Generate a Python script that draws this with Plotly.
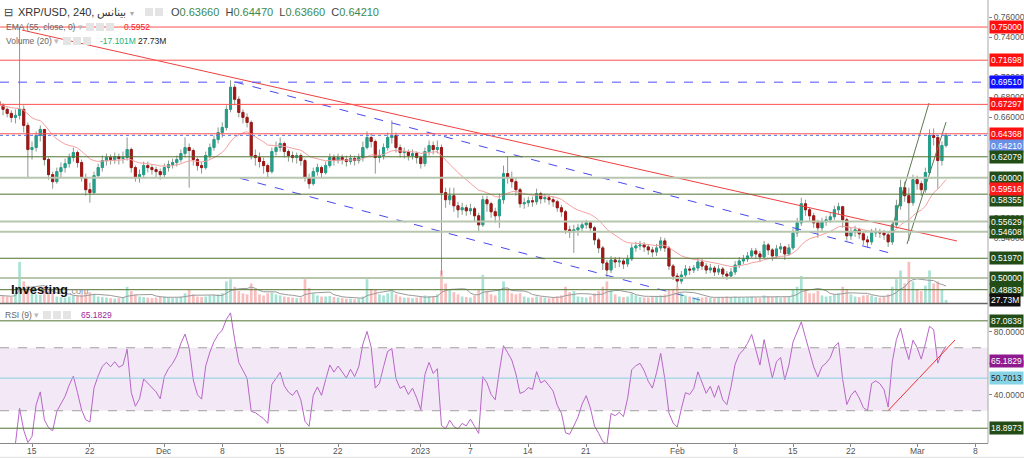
import numpy as np
import pandas as pd
import plotly.graph_objects as go

# ---------------- data (12h candles) ----------------
start_time = "2023-11-11 00:00"
first_open = 0.676
closes = [
    0.672, 0.668, 0.664, 0.660, 0.662, 0.668, 0.652, 0.628, 0.630, 0.642,
    0.648, 0.618, 0.603, 0.596, 0.606, 0.610, 0.614, 0.620, 0.625, 0.615,
    0.600, 0.588, 0.585, 0.602, 0.610, 0.617, 0.620, 0.618, 0.621, 0.619,
    0.620, 0.628, 0.610, 0.600, 0.603, 0.612, 0.610, 0.608, 0.606, 0.603,
    0.610, 0.613, 0.615, 0.618, 0.624, 0.630, 0.627, 0.618, 0.612, 0.610,
    0.622, 0.630, 0.638, 0.645, 0.650, 0.668, 0.690, 0.678, 0.665, 0.660,
    0.655, 0.622, 0.620, 0.616, 0.612, 0.606, 0.626, 0.630, 0.634, 0.626,
    0.622, 0.620, 0.622, 0.617, 0.600, 0.594, 0.606, 0.610, 0.605, 0.612,
    0.620, 0.617, 0.620, 0.618, 0.616, 0.619, 0.617, 0.620, 0.630, 0.640,
    0.636, 0.620, 0.622, 0.630, 0.640, 0.642, 0.630, 0.625, 0.626, 0.622,
    0.624, 0.620, 0.614, 0.626, 0.632, 0.628, 0.630, 0.585, 0.578, 0.582,
    0.572, 0.568, 0.570, 0.567, 0.569, 0.562, 0.553, 0.578, 0.574, 0.566,
    0.562, 0.578, 0.604, 0.600, 0.596, 0.588, 0.574, 0.575, 0.577, 0.576,
    0.584, 0.579, 0.580, 0.578, 0.576, 0.570, 0.566, 0.548, 0.546, 0.548,
    0.550, 0.553, 0.555, 0.550, 0.538, 0.530, 0.515, 0.508, 0.518, 0.516,
    0.517, 0.514, 0.519, 0.530, 0.532, 0.533, 0.531, 0.528, 0.526, 0.530,
    0.537, 0.530, 0.512, 0.502, 0.497, 0.503, 0.509, 0.508, 0.510, 0.516,
    0.512, 0.508, 0.510, 0.506, 0.509, 0.504, 0.502, 0.506, 0.513, 0.517,
    0.519, 0.522, 0.527, 0.524, 0.521, 0.533, 0.528, 0.522, 0.529, 0.531,
    0.524, 0.530, 0.545, 0.555, 0.574, 0.568, 0.562, 0.555, 0.550, 0.556,
    0.558, 0.561, 0.568, 0.571, 0.558, 0.542, 0.546, 0.548, 0.544, 0.538,
    0.536, 0.545, 0.546, 0.545, 0.543, 0.536, 0.553, 0.572, 0.590, 0.582,
    0.575, 0.598, 0.594, 0.588, 0.605, 0.642, 0.640, 0.617, 0.632, 0.6421,
]
highs = [
    0.680, 0.674, 0.670, 0.667, 0.668, 0.750, 0.672, 0.655, 0.636, 0.646,
    0.652, 0.648, 0.620, 0.606, 0.610, 0.615, 0.619, 0.624, 0.630, 0.627,
    0.618, 0.604, 0.595, 0.606, 0.614, 0.622, 0.624, 0.623, 0.625, 0.624,
    0.626, 0.640, 0.630, 0.612, 0.608, 0.616, 0.616, 0.613, 0.611, 0.609,
    0.614, 0.617, 0.619, 0.622, 0.628, 0.640, 0.634, 0.629, 0.620, 0.616,
    0.626, 0.634, 0.642, 0.650, 0.655, 0.672, 0.697, 0.693, 0.681, 0.668,
    0.664, 0.657, 0.628, 0.625, 0.620, 0.614, 0.630, 0.636, 0.640, 0.636,
    0.628, 0.626, 0.625, 0.624, 0.619, 0.604, 0.610, 0.614, 0.612, 0.616,
    0.624, 0.623, 0.624, 0.623, 0.622, 0.623, 0.622, 0.624, 0.636, 0.646,
    0.644, 0.638, 0.628, 0.634, 0.645, 0.657, 0.645, 0.633, 0.630, 0.628,
    0.628, 0.626, 0.622, 0.630, 0.637, 0.636, 0.637, 0.633, 0.590, 0.590,
    0.590, 0.576, 0.575, 0.573, 0.574, 0.571, 0.565, 0.582, 0.582, 0.576,
    0.570, 0.584, 0.612, 0.621, 0.606, 0.600, 0.590, 0.580, 0.581, 0.581,
    0.589, 0.586, 0.584, 0.583, 0.581, 0.578, 0.573, 0.568, 0.552, 0.553,
    0.554, 0.557, 0.558, 0.557, 0.552, 0.540, 0.532, 0.518, 0.522, 0.521,
    0.521, 0.519, 0.523, 0.534, 0.536, 0.537, 0.536, 0.534, 0.531, 0.534,
    0.541, 0.540, 0.532, 0.514, 0.505, 0.507, 0.513, 0.512, 0.513, 0.520,
    0.519, 0.515, 0.514, 0.512, 0.513, 0.511, 0.507, 0.510, 0.517, 0.521,
    0.523, 0.526, 0.530, 0.530, 0.527, 0.537, 0.535, 0.530, 0.533, 0.535,
    0.532, 0.534, 0.549, 0.560, 0.580, 0.578, 0.570, 0.565, 0.558, 0.560,
    0.562, 0.565, 0.572, 0.575, 0.572, 0.560, 0.550, 0.552, 0.550, 0.547,
    0.542, 0.549, 0.550, 0.549, 0.548, 0.545, 0.557, 0.578, 0.598, 0.596,
    0.590, 0.603, 0.602, 0.597, 0.610, 0.648, 0.649, 0.642, 0.636, 0.6447,
]
lows = [
    0.668, 0.662, 0.660, 0.655, 0.654, 0.658, 0.645, 0.600, 0.618, 0.626,
    0.636, 0.612, 0.598, 0.589, 0.594, 0.600, 0.605, 0.610, 0.616, 0.610,
    0.596, 0.582, 0.575, 0.584, 0.600, 0.606, 0.612, 0.613, 0.614, 0.613,
    0.614, 0.617, 0.605, 0.596, 0.595, 0.600, 0.605, 0.603, 0.600, 0.598,
    0.600, 0.606, 0.609, 0.611, 0.615, 0.620, 0.590, 0.612, 0.607, 0.604,
    0.608, 0.619, 0.627, 0.634, 0.640, 0.647, 0.665, 0.672, 0.660, 0.654,
    0.650, 0.618, 0.612, 0.610, 0.604, 0.600, 0.604, 0.622, 0.626, 0.620,
    0.616, 0.615, 0.614, 0.612, 0.596, 0.589, 0.592, 0.602, 0.600, 0.603,
    0.610, 0.612, 0.614, 0.613, 0.611, 0.613, 0.612, 0.614, 0.616, 0.628,
    0.630, 0.604, 0.615, 0.618, 0.627, 0.634, 0.625, 0.620, 0.619, 0.617,
    0.618, 0.614, 0.609, 0.611, 0.622, 0.623, 0.624, 0.503, 0.570, 0.573,
    0.566, 0.560, 0.563, 0.562, 0.563, 0.556, 0.546, 0.551, 0.566, 0.560,
    0.555, 0.550, 0.574, 0.594, 0.590, 0.582, 0.570, 0.569, 0.571, 0.571,
    0.573, 0.574, 0.575, 0.573, 0.571, 0.566, 0.561, 0.544, 0.540, 0.525,
    0.542, 0.546, 0.549, 0.545, 0.533, 0.525, 0.508, 0.500, 0.505, 0.510,
    0.511, 0.509, 0.511, 0.517, 0.526, 0.528, 0.526, 0.523, 0.521, 0.522,
    0.527, 0.526, 0.508, 0.498, 0.491, 0.494, 0.500, 0.503, 0.505, 0.507,
    0.508, 0.504, 0.505, 0.502, 0.503, 0.500, 0.498, 0.499, 0.503, 0.510,
    0.514, 0.516, 0.520, 0.519, 0.516, 0.520, 0.523, 0.517, 0.520, 0.525,
    0.518, 0.522, 0.528, 0.541, 0.552, 0.562, 0.557, 0.550, 0.540, 0.547,
    0.552, 0.555, 0.558, 0.563, 0.550, 0.537, 0.538, 0.541, 0.539, 0.533,
    0.530, 0.533, 0.541, 0.540, 0.538, 0.531, 0.533, 0.550, 0.568, 0.576,
    0.537, 0.572, 0.588, 0.582, 0.585, 0.603, 0.632, 0.589, 0.612, 0.630,
]
volumes_m = [
    70, 65, 60, 55, 90, 380, 200, 160, 90, 80,
    75, 150, 110, 95, 60, 55, 50, 60, 70, 65,
    80, 95, 100, 85, 60, 55, 50, 45, 40, 45,
    50, 150, 110, 80, 60, 55, 50, 45, 50, 55,
    60, 55, 45, 50, 60, 90, 120, 80, 60, 55,
    60, 70, 75, 80, 90, 200, 220, 150, 110, 90,
    80, 180, 120, 80, 70, 90, 95, 80, 70, 60,
    55, 50, 45, 50, 220, 140, 90, 70, 60, 60,
    65, 55, 50, 45, 40, 40, 35, 40, 60, 220,
    130, 120, 80, 70, 90, 110, 80, 60, 50, 50,
    45, 50, 55, 70, 65, 60, 80, 300, 180, 120,
    100, 80, 60, 55, 50, 70, 120, 260, 110, 80,
    70, 120, 200, 130, 90, 80, 90, 60, 50, 50,
    60, 55, 50, 45, 50, 60, 70, 150, 100, 110,
    60, 55, 50, 60, 90, 110, 150, 200, 120, 80,
    60, 55, 60, 90, 70, 55, 50, 50, 55, 60,
    70, 80, 120, 130, 150, 90, 70, 60, 50, 55,
    50, 55, 50, 45, 50, 55, 60, 55, 60, 55,
    50, 55, 60, 50, 45, 70, 60, 55, 60, 50,
    55, 60, 120, 150, 250, 130, 90, 90, 110, 70,
    60, 65, 80, 90, 150, 130, 80, 60, 55, 70,
    75, 70, 55, 50, 55, 80, 150, 220, 300, 180,
    380, 200, 130, 110, 160, 300, 180, 200, 120, 27.73,
]

# horizontal levels on the price panel
red_levels = [0.75000, 0.71698, 0.67297, 0.64368]
blue_level = 0.69510
last_price = 0.64210
dark_green_levels = [0.62079, 0.58355, 0.51970, 0.48839]
light_green_levels = [0.60000, 0.55629, 0.54608, 0.50000]
ema_last = 0.59516
price_ticks = [0.76, 0.74, 0.70, 0.68, 0.66, 0.56, 0.54]

# trend lines (date, price) pairs
red_trend = [("2023-11-13 19:00", 0.7470), ("2024-03-05 19:40", 0.5369)]
blue_upper = [("2023-12-09 13:00", 0.6953), ("2024-02-26 17:20", 0.5249)]
blue_lower = [("2023-12-10 03:30", 0.5994), ("2024-02-03 18:00", 0.4781)]
green_ch1 = [("2024-02-26 23:15", 0.5498), ("2024-03-02 10:30", 0.6743)]
green_ch2 = [("2024-02-28 18:40", 0.5339), ("2024-03-04 12:00", 0.6554)]
rsi_trend = [("2024-02-26 11:30", 30.0), ("2024-03-05 14:00", 74.9)]

# RSI levels
rsi_levels_green = [87.0838, 18.8973]
rsi_level_blue = 50.7013
rsi_last = 65.1829
rsi_ticks = [80, 60, 40]

tick_dates = ["2023-11-15", "2023-11-22", "2023-12-01", "2023-12-08", "2023-12-15",
              "2023-12-22", "2024-01-01", "2024-01-07", "2024-01-14", "2024-01-21",
              "2024-02-01", "2024-02-08", "2024-02-15", "2024-02-22", "2024-03-01",
              "2024-03-08"]
tick_text = ["15", "22", "Dec", "8", "15", "22", "2023", "7", "14", "21",
             "Feb", "8", "15", "22", "Mar", "8"]

# ---------------- derived series ----------------
times = pd.date_range(start_time, periods=len(closes), freq="12h")
opens = [first_open] + closes[:-1]
cl = pd.Series(closes)
ema = cl.ewm(span=55 / 3, adjust=False).mean()  # EMA 55 of 4h bars ~ 18.3 bars of 12h
rsi_period = 6
delta = cl.diff()
gain = delta.clip(lower=0).ewm(alpha=1 / rsi_period, adjust=False).mean()
loss = (-delta.clip(upper=0)).ewm(alpha=1 / rsi_period, adjust=False).mean()
rsi = 100 - 100 / (1 + gain / loss)
vol_ma = pd.Series(volumes_m).rolling(7, min_periods=1).mean()
body_hi = [max(o, c) for o, c in zip(opens, closes)]
body_lo = [min(o, c) for o, c in zip(opens, closes)]
up = [c >= o for o, c in zip(opens, closes)]

UP = "#22a08c"
DN = "#a01616"
WICK = "#8c9a8c"
GREEN_DK = "#4f7332"
GREEN_LT = "#b8c6ae"
LBL_GREEN = "#234d16"
FONT = "Liberation Sans, Arial, sans-serif"

W, H = 1024, 458
ML, MR, MT, MB = 0, 36, 0, 15
PH = H - MT - MB  # 443
PW = W - ML - MR  # 988


def py(y):
    return 1 - (y - MT) / PH


def px(x):
    return (x - ML) / PW


fig = go.Figure()

# volume overlay
fig.add_trace(go.Bar(x=times, y=volumes_m, yaxis="y3",
                     marker=dict(color=["rgba(60,190,160,0.45)" if u else "rgba(240,110,110,0.45)" for u in up],
                                 line=dict(width=0)),
                     hoverinfo="skip"))
fig.add_trace(go.Scatter(x=times, y=vol_ma, yaxis="y3", mode="lines",
                         line=dict(color="#9a9a9a", width=1), hoverinfo="skip"))

# EMA
fig.add_trace(go.Scatter(x=times, y=ema, mode="lines", line=dict(color="#f4a0a0", width=1),
                         hoverinfo="skip"))

# candle wicks (gray), then coloured bodies
fig.add_trace(go.Candlestick(x=times, open=opens, high=highs, low=lows, close=closes,
                             increasing=dict(line=dict(color=WICK, width=1), fillcolor=WICK),
                             decreasing=dict(line=dict(color=WICK, width=1), fillcolor=WICK),
                             hoverinfo="skip"))
fig.add_trace(go.Candlestick(x=times, open=opens, high=body_hi, low=body_lo, close=closes,
                             increasing=dict(line=dict(color=UP, width=1), fillcolor=UP),
                             decreasing=dict(line=dict(color=DN, width=1), fillcolor=DN),
                             hoverinfo="skip"))

# trend lines
for pts, col, dash in [(red_trend, "#f04040", "solid"), (blue_upper, "#4848f0", "dash"),
                       (blue_lower, "#4848f0", "dash"), (green_ch1, "#5e7a50", "solid"),
                       (green_ch2, "#5e7a50", "solid")]:
    fig.add_trace(go.Scatter(x=[p[0] for p in pts], y=[p[1] for p in pts], mode="lines",
                             line=dict(color=col, width=1, dash=dash), hoverinfo="skip"))

# RSI
fig.add_trace(go.Scatter(x=times, y=rsi, yaxis="y2", mode="lines",
                         line=dict(color="#b866c8", width=1), hoverinfo="skip"))
fig.add_trace(go.Scatter(x=[p[0] for p in rsi_trend], y=[p[1] for p in rsi_trend], yaxis="y2",
                         mode="lines", line=dict(color="#f03030", width=1), hoverinfo="skip"))

shapes = []
# RSI band
shapes.append(dict(type="rect", xref="paper", x0=0, x1=1, yref="y2", y0=30, y1=70,
                   fillcolor="rgba(200,150,210,0.22)", line=dict(width=0), layer="below"))
for lv in (70, 30):
    shapes.append(dict(type="line", xref="paper", x0=0, x1=1, yref="y2", y0=lv, y1=lv,
                       line=dict(color="#a0a0a0", width=1, dash="dash")))
for lv in rsi_levels_green:
    shapes.append(dict(type="line", xref="paper", x0=0, x1=1, yref="y2", y0=lv, y1=lv,
                       line=dict(color=GREEN_DK, width=1)))
shapes.append(dict(type="line", xref="paper", x0=0, x1=1, yref="y2", y0=rsi_level_blue,
                   y1=rsi_level_blue, line=dict(color="#86cfe0", width=1)))

for lv in red_levels:
    shapes.append(dict(type="line", xref="paper", x0=0, x1=1, yref="y", y0=lv, y1=lv,
                       line=dict(color="#ff5050", width=1)))
shapes.append(dict(type="line", xref="paper", x0=0, x1=1, yref="y", y0=blue_level, y1=blue_level,
                   line=dict(color="#5050ff", width=1, dash="dash")))
shapes.append(dict(type="line", xref="paper", x0=0, x1=1, yref="y", y0=last_price, y1=last_price,
                   line=dict(color="#5577dd", width=1, dash="dot")))
for lv in dark_green_levels:
    shapes.append(dict(type="line", xref="paper", x0=0, x1=1, yref="y", y0=lv, y1=lv,
                       line=dict(color=GREEN_DK, width=1)))
for lv in light_green_levels:
    shapes.append(dict(type="line", xref="paper", x0=0, x1=1, yref="y", y0=lv, y1=lv,
                       line=dict(color=GREEN_LT, width=2)))

# panel separator, right axis line, bottom strip
shapes.append(dict(type="line", xref="paper", x0=0, x1=1, yref="paper", y0=py(303.5), y1=py(303.5),
                   line=dict(color="#666", width=1.5)))
shapes.append(dict(type="line", xref="paper", x0=1, x1=1, yref="paper", y0=py(443), y1=py(0),
                   line=dict(color="#a8a8a8", width=1)))
shapes.append(dict(type="line", xref="paper", x0=0, x1=px(1024), yref="paper", y0=py(457.5),
                   y1=py(457.5), line=dict(color="#e6e6e6", width=1.5)))

# small header icon boxes
for (x0, y0) in [(145, 8), (155, 8), (86, 23), (96, 23), (106, 23), (63, 37), (73, 37), (83, 37),
                 (43, 311), (53, 311), (63, 311)]:
    shapes.append(dict(type="rect", xref="paper", yref="paper", x0=px(x0), x1=px(x0 + 8),
                       y0=py(y0 + 8), y1=py(y0), fillcolor="#e4e4e4", line=dict(width=0)))

ann = []


def label(y, text, bg, yref="y", fg="white", shift=0):
    ann.append(dict(xref="paper", x=1, xanchor="left", xshift=1, yref=yref, y=y, yanchor="middle",
                    yshift=shift, text=text, showarrow=False, bgcolor=bg, borderpad=1,
                    font=dict(family=FONT, size=8.5, color=fg)))


for lv in red_levels:
    label(lv, f"{lv:.5f}", "#ff1010")
label(blue_level, f"{blue_level:.5f}", "#1010ff")
label(last_price, f"{last_price:.5f}", "#6a8fe6", shift=-10.5)
for lv in dark_green_levels + light_green_levels:
    label(lv, f"{lv:.5f}", LBL_GREEN, shift=(-6 if lv == 0.58355 else 0))
label(ema_last, f"{ema_last:.5f}", "#ff1a1a", shift=-6)
label(volumes_m[-1], f"{volumes_m[-1]:.2f}M", "#111111", yref="y3")
for lv in rsi_levels_green:
    label(lv, f"{lv:.4f}", LBL_GREEN, yref="y2")
label(rsi_last, f"{rsi_last:.4f}", "#8e1a8e", yref="y2", shift=-6)
label(rsi_level_blue, f"{rsi_level_blue:.4f}", "#86d3e6", yref="y2", fg="#222")


def text(x, y, t, size=9, color="#555", bold=False):
    ann.append(dict(xref="paper", yref="paper", x=px(x), y=py(y), xanchor="left", yanchor="middle",
                    text=(f"<b>{t}</b>" if bold else t), showarrow=False, borderpad=0,
                    font=dict(family=FONT, size=size, color=color)))


g = "#3c8a52"
text(3, 12, "⊟", size=11, color="#444")
text(17, 12, "XRP/USD, 240, بينانس <span style='color:#aaa;font-size:8px'>▾</span>", size=11, color="#333")
text(170, 12, f"O<span style='color:{g}'>0.63660</span>  H<span style='color:{g}'>0.64470</span>  "
              f"L<span style='color:{g}'>0.63660</span>  C<span style='color:{g}'>0.64210</span>",
     size=11, color="#444")
text(5, 27, "EMA (55, close, 0) <span style='color:#bbb'>▾</span>", size=8.5, color="#666")
text(123, 27, "0.5952", size=8.5, color="#ff2020")
text(5, 41, "Volume (20) <span style='color:#bbb'>▾</span>", size=8.5, color="#666")
text(99, 41, "-17.101M", size=8.5, color="#22b07a")
text(137, 41, "27.73M", size=8.5, color="#222")
text(4, 315, "RSI (9) <span style='color:#bbb'>▾</span>", size=8.5, color="#666")
text(80, 315, "65.1829", size=8.5, color="#9a2a9a")
text(10, 289, "Investing", size=13, color="#111", bold=True)
text(68, 291, ".com", size=9, color="#888")

# x-axis tick labels (placed as annotations so they sit right under the axis)
for d, t in zip(tick_dates, tick_text):
    ann.append(dict(xref="x", yref="paper", x=d, y=py(451), xanchor="center", yanchor="middle",
                    text=t, showarrow=False, borderpad=0,
                    font=dict(family=FONT, size=8.5, color="#555")))

fig.update_layout(
    template="none",
    width=W, height=H, margin=dict(l=ML, r=MR, t=MT, b=MB, pad=0, autoexpand=False),
    paper_bgcolor="white", plot_bgcolor="white", showlegend=False, hovermode=False,
    shapes=shapes, annotations=ann,
    xaxis=dict(type="date", range=["2023-11-11 03:10", "2024-03-09 13:40"], anchor="y2",
               rangeslider=dict(visible=False), showgrid=False, zeroline=False, automargin=False,
               showline=True, linecolor="#888", linewidth=1, ticks="outside", ticklen=3,
               tickcolor="#888", tickvals=tick_dates, showticklabels=False),
    yaxis=dict(domain=[py(303), py(5)], range=[0.47514, 0.77195], side="right", automargin=False,
               showgrid=False, zeroline=False, tickvals=price_ticks, tickformat=".5f",
               ticks="outside", ticklen=3, tickcolor="#888",
               tickfont=dict(family=FONT, size=8.5, color="#555")),
    yaxis2=dict(domain=[0, py(306)], range=[9.52, 96.5], side="right", showgrid=False,
                zeroline=False, automargin=False,
                tickvals=rsi_ticks, ticktext=[f"{v:.4f}" for v in rsi_ticks],
                ticks="outside", ticklen=3, tickcolor="#888",
                tickfont=dict(family=FONT, size=8.5, color="#555")),
    yaxis3=dict(overlaying="y", range=[0, 2754], visible=False),
    bargap=0.35,
)

fig.write_html("out.html", config={"displayModeBar": False},
               post_script="document.body.style.margin='0';document.body.style.padding='0';")
